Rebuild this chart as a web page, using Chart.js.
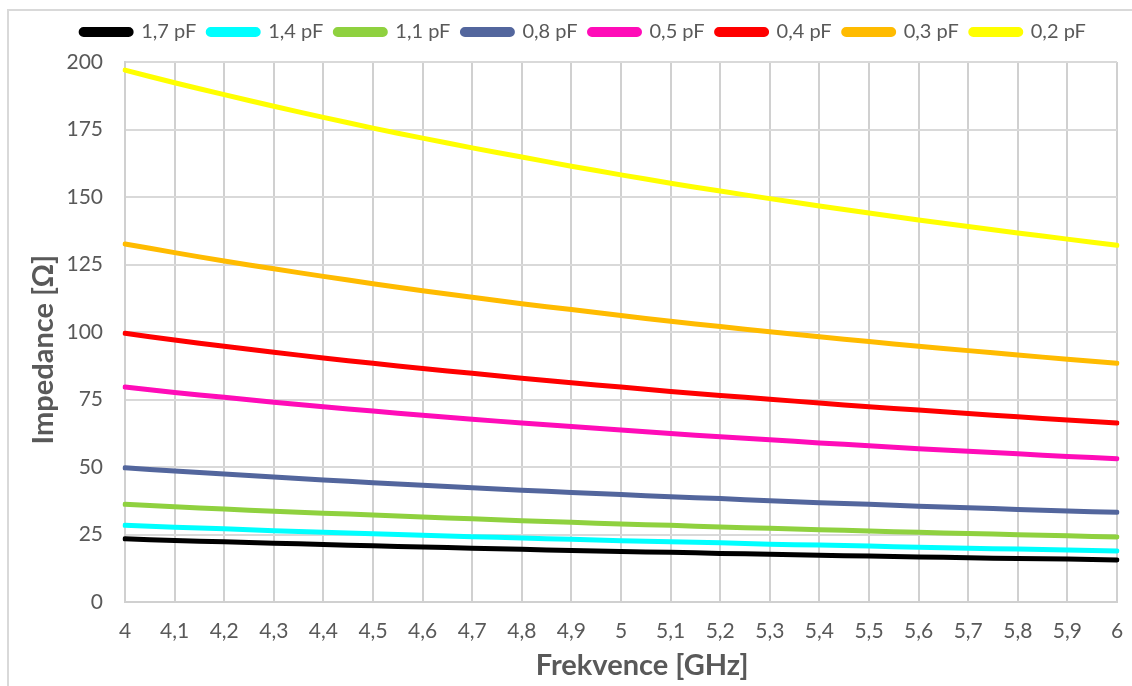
<!DOCTYPE html>
<html>
<head>
<meta charset="utf-8">
<script src="https://cdn.jsdelivr.net/npm/chart.js@4"></script>
<style>
html,body{margin:0;padding:0;background:#fff;}
#wrap{position:relative;width:1132px;height:686px;}
</style>
</head>
<body>
<div id="wrap"><canvas id="c" width="1132" height="686"></canvas></div>
<script>
// frekvence v GHz
const freqLabels=['4','4,1','4,2','4,3','4,4','4,5','4,6','4,7','4,8','4,9','5','5,1','5,2','5,3','5,4','5,5','5,6','5,7','5,8','5,9','6'];
const yTicks=[0,25,50,75,100,125,150,175,200];
const seriesNames=['1,7 pF','1,4 pF','1,1 pF','0,8 pF','0,5 pF','0,4 pF','0,3 pF','0,2 pF'];
const seriesColors=['#000000','#00ffff','#8fd13f','#53669d','#ff0cb8','#ff0000','#ffbb00','#ffff00'];
const z17=[23.4,22.8,22.3,21.8,21.3,20.8,20.4,19.9,19.5,19.1,18.7,18.4,18.0,17.7,17.3,17.0,16.7,16.4,16.1,15.9,15.6];
const z14=[28.4,27.7,27.1,26.4,25.8,25.3,24.7,24.2,23.7,23.2,22.7,22.3,21.9,21.4,21.1,20.7,20.3,19.9,19.6,19.3,18.9];
const z11=[36.2,35.3,34.4,33.6,32.9,32.2,31.5,30.8,30.1,29.5,28.9,28.4,27.8,27.3,26.8,26.3,25.8,25.4,24.9,24.5,24.1];
const z08=[49.7,48.5,47.4,46.3,45.2,44.2,43.2,42.3,41.4,40.6,39.8,39.0,38.3,37.5,36.8,36.2,35.5,34.9,34.3,33.7,33.2];
const z05=[79.6,77.6,75.8,74.0,72.3,70.7,69.2,67.7,66.3,65.0,63.7,62.4,61.2,60.1,58.9,57.9,56.8,55.8,54.9,53.9,53.1];
const z04=[99.5,97.0,94.7,92.5,90.4,88.4,86.5,84.7,82.9,81.2,79.6,78.0,76.5,75.1,73.7,72.3,71.1,69.8,68.6,67.4,66.3];
const z03=[132.6,129.4,126.3,123.4,120.6,117.9,115.3,112.9,110.5,108.3,106.1,104.0,102.0,100.1,98.2,96.5,94.7,93.1,91.5,89.9,88.4];
const z02=[197.0,192.3,187.9,183.6,179.5,175.5,171.8,168.2,164.8,161.4,158.2,155.1,152.2,149.4,146.7,144.1,141.5,139.1,136.7,134.4,132.1];
const seriesData=[z17,z14,z11,z08,z05,z04,z03,z02];

const grey='#595959';
const font='Lato, "DejaVu Sans", sans-serif';

const frame={
    id:'frame',
    afterLayout(chart){
        // legenda o kus doprava a nahoru jako v Excelu
        const lg=chart.legend;
        const h=lg.height;
        lg.left+=21;lg.right+=21;
        lg.top=31-h/2;lg.bottom=lg.top+h;
    },
    beforeDraw(chart){
        const ctx=chart.ctx;
        ctx.save();
        ctx.strokeStyle='#d9d9d9';
        ctx.lineWidth=2;
        ctx.beginPath();
        ctx.moveTo(8,686);ctx.lineTo(8,10);ctx.lineTo(1132,10);
        ctx.stroke();
        ctx.restore();
    }
};

new Chart(document.getElementById('c'),{
    type:'line',
    data:{
        labels:freqLabels,
        datasets:seriesNames.map((n,i)=>({
            label:n,
            data:seriesData[i],
            borderColor:seriesColors[i],
            backgroundColor:seriesColors[i],
            borderWidth:5,
            pointRadius:0,
            tension:0.3,
            borderCapStyle:'round'
        }))
    },
    options:{
        responsive:false,
        animation:false,
        layout:{padding:{left:8,right:15,top:20,bottom:0}},
        plugins:{
            legend:{
                position:'top',
                labels:{
                    color:grey,
                    font:{family:font,size:20},
                    boxWidth:50,
                    boxHeight:5,
                    useBorderRadius:true,
                    borderRadius:2.5,
                    padding:12
                }
            },
            tooltip:{enabled:false}
        },
        scales:{
            x:{
                offset:false,
                afterFit(s){s.height=84;s.paddingRight=0;},
                grid:{color:'#d0d0d0',lineWidth:2,drawTicks:false},
                border:{color:'#d0d0d0',width:2},
                ticks:{color:grey,font:{family:font,size:21},padding:17,maxRotation:0,autoSkip:false},
                title:{display:true,text:'      Frekvence [GHz]',color:grey,font:{family:font,size:29,weight:'bold'},padding:{top:0,bottom:3}}
            },
            y:{
                min:0,max:200,
                afterBuildTicks(s){s.ticks=yTicks.map(v=>({value:v}));},
                afterFit(s){s.width=117;},
                grid:{color:'#d9d9d9',lineWidth:2,drawTicks:false},
                border:{color:'#d0d0d0',width:2},
                ticks:{color:grey,font:{family:font,size:21},padding:22},
                title:{display:true,text:'Impedance [Ω]     ',color:grey,font:{family:font,size:29,weight:'bold'},padding:{top:18,bottom:0}}
            }
        }
    },
    plugins:[frame]
});
</script>
</body>
</html>
